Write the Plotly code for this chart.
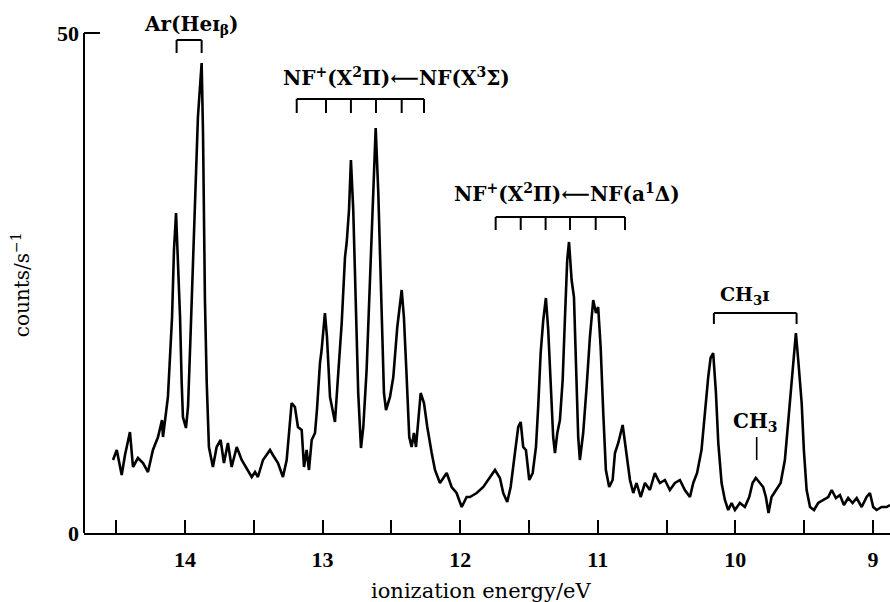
import plotly.graph_objects as go

# ---- spectrum data (ionization energy / eV, counts / s^-1) ----
energy = [14.523, 14.496, 14.460, 14.436, 14.400, 14.378, 14.342, 14.305, 14.269, 14.233,
          14.196, 14.167, 14.160, 14.131, 14.124, 14.094, 14.080, 14.065, 14.051, 14.036,
          14.024, 14.015, 13.993, 13.978, 13.959, 13.927, 13.906, 13.879, 13.869, 13.855,
          13.842, 13.826, 13.797, 13.770, 13.741, 13.717, 13.688, 13.661, 13.624, 13.588,
          13.552, 13.515, 13.491, 13.470, 13.433, 13.382, 13.361, 13.324, 13.288, 13.261,
          13.225, 13.201, 13.179, 13.152, 13.135, 13.116, 13.099, 13.079, 13.055, 13.041,
          13.019, 13.007, 12.983, 12.968, 12.946, 12.927, 12.910, 12.888, 12.861, 12.837,
          12.825, 12.808, 12.794, 12.777, 12.757, 12.741, 12.721, 12.704, 12.680, 12.656,
          12.632, 12.614, 12.595, 12.571, 12.554, 12.539, 12.510, 12.486, 12.457, 12.425,
          12.409, 12.389, 12.370, 12.353, 12.336, 12.321, 12.305, 12.287, 12.263, 12.239,
          12.207, 12.183, 12.147, 12.098, 12.062, 12.026, 11.989, 11.953, 11.929, 11.880,
          11.832, 11.784, 11.747, 11.711, 11.687, 11.658, 11.633, 11.602, 11.578, 11.560,
          11.542, 11.522, 11.498, 11.473, 11.449, 11.433, 11.415, 11.396, 11.377, 11.360,
          11.342, 11.324, 11.311, 11.294, 11.275, 11.255, 11.239, 11.222, 11.209, 11.190,
          11.173, 11.159, 11.142, 11.130, 11.106, 11.081, 11.057, 11.033, 11.013, 10.997,
          10.979, 10.960, 10.941, 10.917, 10.892, 10.875, 10.851, 10.819, 10.790, 10.766,
          10.742, 10.718, 10.688, 10.657, 10.621, 10.585, 10.561, 10.548, 10.512, 10.476,
          10.439, 10.403, 10.367, 10.330, 10.306, 10.278, 10.246, 10.221, 10.197, 10.180,
          10.161, 10.141, 10.124, 10.100, 10.076, 10.052, 10.027, 10.003, 9.967, 9.931,
          9.899, 9.875, 9.851, 9.827, 9.798, 9.778, 9.759, 9.737, 9.705, 9.671,
          9.640, 9.616, 9.591, 9.572, 9.560, 9.543, 9.518, 9.502, 9.482, 9.457,
          9.428, 9.398, 9.361, 9.325, 9.300, 9.269, 9.240, 9.211, 9.180, 9.148,
          9.118, 9.082, 9.046, 9.022, 8.998, 8.973, 8.937, 8.901, 8.876]
counts = [7.3, 8.3, 5.8, 7.8, 10.1, 6.6, 7.5, 7.0, 6.1, 8.3,
          9.6, 11.3, 9.6, 12.6, 13.6, 21.6, 28.3, 32.0, 27.6, 21.6,
          15.0, 11.6, 10.5, 12.6, 20.0, 33.3, 41.6, 47.0, 40.0, 23.3,
          15.0, 8.6, 6.6, 8.6, 9.3, 7.0, 9.0, 6.6, 8.6, 7.3,
          6.5, 5.6, 6.1, 5.6, 7.3, 8.3, 7.8, 7.0, 5.6, 7.3,
          13.0, 12.6, 10.6, 10.3, 6.6, 8.3, 6.3, 9.3, 10.0, 12.3,
          17.0, 18.3, 22.0, 19.6, 13.6, 12.3, 11.1, 15.6, 21.0, 27.6,
          29.0, 32.3, 37.3, 32.3, 22.3, 14.0, 8.5, 10.6, 16.3, 25.6,
          35.6, 40.5, 34.0, 22.3, 14.0, 12.3, 13.6, 15.6, 20.6, 24.3,
          21.6, 15.6, 9.6, 8.6, 10.0, 8.6, 11.3, 14.0, 13.0, 10.6,
          8.0, 6.3, 5.0, 6.0, 4.6, 4.0, 2.6, 3.6, 3.6, 4.0,
          4.6, 5.5, 6.3, 5.5, 4.0, 3.1, 4.6, 8.0, 10.6, 11.1,
          8.6, 8.3, 5.3, 6.0, 8.6, 12.6, 18.0, 21.3, 23.5, 20.3,
          15.3, 9.6, 8.0, 10.0, 11.3, 15.3, 21.3, 27.3, 29.1, 25.3,
          23.6, 16.3, 9.6, 7.3, 10.0, 14.6, 19.6, 23.3, 22.0, 22.6,
          18.6, 12.0, 6.3, 4.6, 5.3, 8.0, 9.0, 10.8, 8.0, 5.3,
          4.0, 5.0, 3.6, 5.0, 4.3, 6.0, 5.3, 5.0, 5.3, 4.3,
          5.0, 5.3, 4.3, 3.6, 5.0, 6.0, 8.3, 12.3, 15.6, 17.5,
          18.0, 14.0, 9.0, 5.0, 3.3, 2.3, 3.0, 2.3, 3.0, 2.6,
          3.6, 5.0, 5.5, 5.1, 4.6, 3.6, 2.0, 3.6, 4.3, 5.0,
          7.3, 11.3, 14.6, 18.0, 20.0, 17.3, 13.0, 8.3, 4.3, 2.6,
          2.3, 3.0, 3.3, 3.6, 4.3, 3.5, 3.8, 2.8, 3.5, 3.0,
          3.5, 2.6, 3.6, 4.0, 2.6, 2.3, 2.6, 2.6, 2.8]

# ---- axis ticks ----
x_tickvals = [14.5, 14.0, 13.5, 13.0, 12.5, 12.0, 11.5, 11.0, 10.5, 10.0, 9.5, 9.0]
x_ticktext = ["", "14", "", "13", "", "12", "", "11", "", "10", "", "9"]
y_tickvals = [0, 50]
y_ticktext = ["0", "50"]

# ---- assignment brackets (energies in eV) ----
ar_bracket = [14.061, 13.879]
nf_x_bracket = [13.188, 12.975, 12.794, 12.612, 12.425, 12.263]
nf_a_bracket = [11.742, 11.560, 11.379, 11.202, 11.015, 10.802]
ch3i_bracket = [10.156, 9.555]
ch3_mark = 9.845

SERIF = "DejaVu Serif, Liberation Serif, serif"
DIGITS = "Liberation Serif, DejaVu Serif, serif"

fig = go.Figure()
fig.add_trace(go.Scatter(x=energy, y=counts, mode="lines",
                         line=dict(color="black", width=2.6), hoverinfo="skip",
                         showlegend=False))

shapes = []
def bracket(xs, ytop, ybot):
    shapes.append(dict(type="line", xref="x", yref="y", x0=min(xs), x1=max(xs),
                       y0=ytop, y1=ytop, line=dict(color="black", width=2)))
    for xv in xs:
        shapes.append(dict(type="line", xref="x", yref="y", x0=xv, x1=xv,
                           y0=ytop, y1=ybot, line=dict(color="black", width=2)))

bracket(ar_bracket, 49.3, 48.0)
bracket(nf_x_bracket, 43.4, 42.0)
bracket(nf_a_bracket, 31.6, 30.3)
bracket(ch3i_bracket, 22.0, 20.9)
shapes.append(dict(type="line", xref="x", yref="y", x0=ch3_mark, x1=ch3_mark,
                   y0=9.6, y1=7.3, line=dict(color="black", width=1.6)))
# left axis line only up to 50
shapes.append(dict(type="line", xref="paper", yref="y", x0=0, x1=0, y0=0, y1=50,
                   line=dict(color="black", width=2)))

ann_font = dict(family=SERIF, size=20, color="black")
annotations = [
    dict(x=13.956, y=50.8, xref="x", yref="y", showarrow=False,
         text="<b>Ar(He\u026a<sub>\u03b2</sub>)</b>", font=ann_font),
    dict(x=12.463, y=45.6, xref="x", yref="y", showarrow=False,
         text="<b>NF<sup>+</sup>(X<sup>2</sup>\u03a0)\u27f5NF(X<sup>3</sup>\u03a3)</b>", font=ann_font),
    dict(x=11.227, y=34.0, xref="x", yref="y", showarrow=False,
         text="<b>NF<sup>+</sup>(X<sup>2</sup>\u03a0)\u27f5NF(a<sup>1</sup>\u0394)</b>", font=ann_font),
    dict(x=9.930, y=23.8, xref="x", yref="y", showarrow=False,
         text="<b>CH<sub>3</sub>\u026a</b>", font=dict(family=SERIF, size=19, color="black")),
    dict(x=9.854, y=11.1, xref="x", yref="y", showarrow=False,
         text="<b>CH<sub>3</sub></b>", font=ann_font),
    dict(x=0.4926, y=-0.109, xref="paper", yref="paper", showarrow=False,
         xanchor="center", yanchor="middle",
         text="ionization energy/eV", font=dict(family=SERIF, size=21, color="black")),
    dict(x=-0.078, y=0.465, xref="paper", yref="paper", showarrow=False, textangle=-90,
         xanchor="center", yanchor="middle",
         text="counts/s<sup>\u22121</sup>", font=dict(family=SERIF, size=20, color="black")),
]

fig.update_layout(
    width=890, height=602,
    margin=dict(l=84, r=0, t=0, b=69),
    paper_bgcolor="white", plot_bgcolor="white",
    shapes=shapes, annotations=annotations,
    xaxis=dict(range=[14.734, 8.876], tickmode="array", tickvals=x_tickvals,
               ticktext=x_ticktext, ticks="inside", ticklen=13, tickwidth=2,
               tickcolor="black", showline=True, linecolor="black", linewidth=2,
               showgrid=False, zeroline=False, ticklabelstandoff=6,
               tickfont=dict(family=DIGITS, size=22, color="black", weight="bold")),
    yaxis=dict(range=[0, 53.3], tickmode="array", tickvals=y_tickvals,
               ticktext=y_ticktext, ticks="inside", ticklen=16, tickwidth=2,
               tickcolor="black", showline=False, showgrid=False, zeroline=False,
               ticklabelstandoff=4,
               tickfont=dict(family=DIGITS, size=22, color="black", weight="bold")),
)

fig.write_html("out.html")
